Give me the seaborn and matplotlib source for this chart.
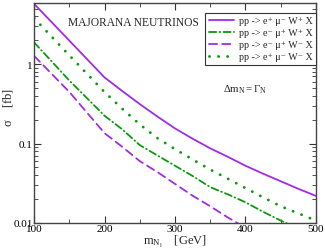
import numpy as np
import pandas as pd
import matplotlib
matplotlib.use("Agg")
import matplotlib.pyplot as plt
import seaborn as sns

# heavy neutrino mass [GeV]
mass = [100, 150, 200, 225, 250, 275, 300, 325, 350, 375, 400, 425, 450, 475, 500]

# cross sections [fb]
xs_ep_mm_wp = [5.75, 1.98, 0.68, 0.46, 0.314, 0.219, 0.155, 0.115, 0.087,
               0.068, 0.0525, 0.0417, 0.0335, 0.0269, 0.0219]
xs_em_mp_wp = [1.88, 0.622, 0.224, 0.151, 0.0955, 0.0708, 0.0525, 0.039, 0.0282,
               0.0229, 0.0182, 0.0138, 0.0107, 0.0085, 0.0068]
xs_em_mp_wm = [1.27, 0.447, 0.135, 0.091, 0.060, 0.0437, 0.031, 0.022, 0.0162,
               0.0117, 0.0087, 0.0066, 0.005, 0.0038, 0.0029]
xs_ep_mm_wm = [3.8, 1.29, 0.445, 0.275, 0.174, 0.117, 0.085, 0.063, 0.047,
               0.036, 0.0275, 0.021, 0.0162, 0.0132, 0.0107]

labels = [
    "pp -> e⁺ μ⁻ W⁺ X",
    "pp -> e⁻ μ⁺ W⁺ X",
    "pp -> e⁻ μ⁺ W⁻ X",
    "pp -> e⁺ μ⁻ W⁻ X",
]
series = [xs_ep_mm_wp, xs_em_mp_wp, xs_em_mp_wm, xs_ep_mm_wm]

purple = "#a02ce6"
green = "#0c9a0c"
colors = dict(zip(labels, [purple, green, purple, green]))
dashes = dict(zip(labels, ["", (4, 1.8, 0.4, 1.8), (4.5, 2.8), (0.01, 3.1)]))
widths = dict(zip(labels, [1.3, 1.3, 1.3, 2.1]))

df = pd.DataFrame({
    "m": np.tile(mass, len(labels)),
    "sigma": np.concatenate(series),
    "process": np.repeat(labels, len(mass)),
})

sns.set_style("ticks")
plt.rcParams["font.family"] = ["Liberation Serif", "DejaVu Serif"]
plt.rcParams["mathtext.fontset"] = "custom"
plt.rcParams["mathtext.rm"] = "Liberation Serif"
plt.rcParams["mathtext.it"] = "Liberation Serif:italic"

fig = plt.figure(figsize=(3.25, 2.51), dpi=100)
ax = fig.add_axes([0.105, 0.108, 0.867, 0.876])

sns.lineplot(data=df, x="m", y="sigma", hue="process", style="process",
             palette=colors, dashes=dashes, linewidth=1.3, ax=ax, legend=False)
for line, l in zip(ax.get_lines(), labels):
    line.set_dash_capstyle("round")
    line.set_linewidth(widths[l])

ax.set_yscale("log")
ax.set_xlim(100, 500)
ax.set_ylim(0.01, 5.9)
ax.set_xticks([100, 200, 300, 400, 500])
ax.set_xticks([150, 250, 350, 450], minor=True)
ax.set_yticks([0.01, 0.1, 1])
ax.set_yticklabels(["0.01", "0.1", "1"])
ax.tick_params(which="both", direction="in", top=True, right=True,
               labelsize=8, pad=1, colors="#333333", labelcolor="black")
ax.tick_params(which="major", length=5, width=0.8)
ax.tick_params(which="minor", length=3, width=0.6)
for s in ax.spines.values():
    s.set_linewidth(1.0)
    s.set_color("#444444")

ax.set_xlabel(r"$\mathregular{m_{N_l}}$    [GeV]", fontsize=9, labelpad=0)
ax.set_ylabel(r"$\mathregular{σ}$    [fb]", fontsize=9)
ax.yaxis.set_label_coords(-0.068, 0.53)

ax.text(0.12, 0.915, "MAJORANA NEUTRINOS", transform=ax.transAxes,
        fontsize=8.3, va="center", ha="left")
ax.text(0.67, 0.61, r"$\mathregular{Δm_N = Γ_N}$", transform=ax.transAxes,
        fontsize=7.8, va="center", ha="left")

handles = [plt.Line2D([], [], color=colors[l], linewidth=widths[l],
                      linestyle=(0, dashes[l]) if dashes[l] else "-",
                      dash_capstyle="round") for l in labels]
leg = ax.legend(handles, labels, loc="upper right", bbox_to_anchor=(1.0, 0.955),
                fontsize=7.2, frameon=True, fancybox=False, framealpha=1,
                edgecolor="#333333", handlelength=2.5, handletextpad=0.5,
                borderpad=0.35, labelspacing=0.3, borderaxespad=0)
leg.get_frame().set_linewidth(0.8)

fig.savefig("out.png", dpi=100)
